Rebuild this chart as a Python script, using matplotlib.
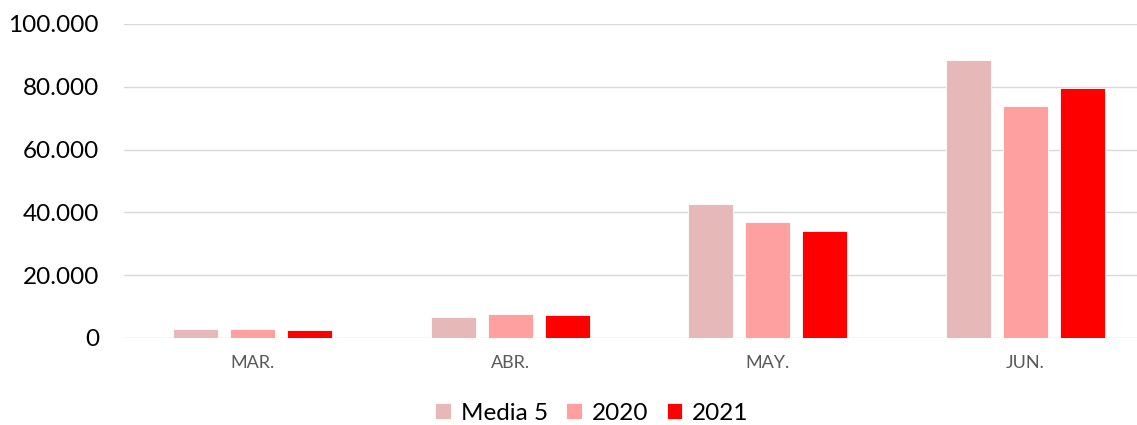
import matplotlib.pyplot as plt
import numpy as np
from matplotlib.ticker import FuncFormatter

months = ["MAR.", "ABR.", "MAY.", "JUN."]
media5 = [2900, 6700, 42600, 88400]
y2020 = [2900, 7800, 37100, 73800]
y2021 = [2550, 7300, 34200, 79500]

series = [("Media 5", media5, "#E6B8B7"), ("2020", y2020, "#FFA0A0"), ("2021", y2021, "#FF0000")]

plt.rcParams["font.family"] = ["Lato", "DejaVu Sans"]

fig = plt.figure(figsize=(11.37, 4.25), dpi=100)
ax = fig.add_axes([124 / 1137, 1 - 338 / 425, 1 - 124 / 1137, (338 - 24) / 425])

x = np.arange(len(months))
width = 0.175
step = 0.222
for i, (name, vals, color) in enumerate(series):
    ax.bar(x + (i - 1) * step, vals, width, color=color, label=name,
           edgecolor="white", linewidth=0.6, zorder=3)

ax.set_ylim(0, 100000)
ax.set_xlim(-0.5, 3.434)
ax.set_yticks(np.arange(0, 100001, 20000))
ax.yaxis.set_major_formatter(FuncFormatter(lambda v, p: f"{int(v):,}".replace(",", ".")))
ax.grid(axis="y", color="#D9D9D9", linewidth=1, zorder=0)
for s in ax.spines.values():
    s.set_visible(False)
ax.tick_params(axis="y", length=0, labelsize=17.5, pad=18, labelcolor="#000000")
ax.set_xticks(x)
ax.set_xticklabels(months)
ax.tick_params(axis="x", length=0, labelsize=13, labelcolor="#595959", pad=12)

fig.legend(loc="center", bbox_to_anchor=(592 / 1137, 1 - 413 / 425), ncol=3,
           frameon=False, fontsize=17.5, handlelength=0.65, handleheight=0.65,
           handletextpad=0.4, columnspacing=0.75)

fig.savefig("out.png", dpi=100)
